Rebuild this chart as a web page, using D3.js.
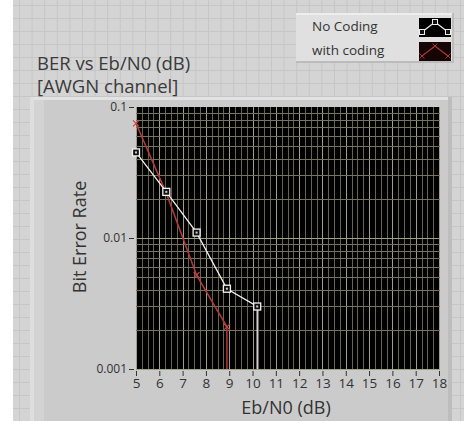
<!DOCTYPE html>
<html>
<head>
<meta charset="utf-8">
<script src="https://cdn.jsdelivr.net/npm/d3@7"></script>
<style>
  html, body { margin: 0; padding: 0; background: #ffffff; }
  svg { display: block; font-family: "Open Sans", "Noto Sans", sans-serif; }
</style>
</head>
<body>
<svg id="chart" width="464" height="421"></svg>
<script>
// Eb/N0 sample points (dB) and measured bit error rates
const ebn0NoCoding = [5, 6.3, 7.6, 8.9, 10.2];
const berNoCoding = [0.045, 0.0225, 0.011, 0.0041, 0.003];
const ebn0Coding = [5, 6.3, 7.6, 8.9];
const berCoding = [0.075, 0.022, 0.0052, 0.0021];
const xTicks = [5, 6, 7, 8, 9, 10, 11, 12, 13, 14, 15, 16, 17, 18];
const yTicks = [0.1, 0.01, 0.001];
const yTickLabels = ["0.1", "0.01", "0.001"];
const seriesNames = ["No Coding", "with coding"];

(function () {
const svg = d3.select("#chart");
const W = 464, H = 421;

// front panel background with its alignment grid
svg.append("rect").attr("x", 13).attr("y", 0).attr("width", W - 13).attr("height", H).attr("fill", "#d4d4d4");
const panelGrid = svg.append("g").attr("stroke", "#c6c6c6").attr("stroke-width", 1);
for (let gx = 19.5; gx < W; gx += 12.6) panelGrid.append("line").attr("x1", gx).attr("x2", gx).attr("y1", 0).attr("y2", H);
for (let gy = 5.5; gy < H; gy += 13) panelGrid.append("line").attr("x1", 13).attr("x2", W).attr("y1", gy).attr("y2", gy);

// graph frame
svg.append("rect").attr("x", 30).attr("y", 97).attr("width", 422).attr("height", H - 97).attr("fill", "#cbcbcb");
svg.append("rect").attr("x", 30).attr("y", 97).attr("width", 422).attr("height", 3).attr("fill", "#e2e2e2");
svg.append("rect").attr("x", 30).attr("y", 97).attr("width", 4).attr("height", H - 97).attr("fill", "#dedede");
svg.append("rect").attr("x", 34).attr("y", 100).attr("width", 10).attr("height", H - 100).attr("fill", "#d3d3d3");
svg.append("rect").attr("x", 448).attr("y", 97).attr("width", 4).attr("height", H - 97).attr("fill", "#bdbdbd");

// titles
const title = svg.append("text").attr("x", 37).attr("fill", "#3a3a3a").style("font-size", "18.5px");
title.append("tspan").attr("x", 37).attr("y", 70).text("BER vs Eb/N0 (dB)");
title.append("tspan").attr("x", 37).attr("y", 93).text("[AWGN channel]");

// plot area
const pL = 136, pR = 440, pT = 107, pB = 369;
const x = d3.scaleLinear().domain([5, 18]).range([pL, pR - 1]);
const y = d3.scaleLog().domain([0.001, 0.1]).range([pB, pT]);

svg.append("rect").attr("x", pL).attr("y", pT).attr("width", pR - pL).attr("height", pB - pT).attr("fill", "#000000");

const grid = svg.append("g");
// vertical grid: quarter-unit minor lines, brighter at integers
d3.range(5, 18.001, 0.25).forEach(v => {
  const major = Math.abs(v - Math.round(v)) < 1e-6;
  grid.append("line")
    .attr("x1", Math.round(x(v)) + 0.5).attr("x2", Math.round(x(v)) + 0.5)
    .attr("y1", pT).attr("y2", pB)
    .attr("stroke", major ? "#a0a084" : "#66664f").attr("stroke-width", 1);
});
// horizontal grid: logarithmic minors
[0.001, 0.01].forEach(dec => {
  d3.range(1, 10).forEach(m => {
    const v = dec * m;
    grid.append("line")
      .attr("x1", pL).attr("x2", pR)
      .attr("y1", Math.round(y(v)) + 0.5).attr("y2", Math.round(y(v)) + 0.5)
      .attr("stroke", m === 1 ? "#a0a084" : "#76765e").attr("stroke-width", 1);
  });
});

// axes
const xAxis = d3.axisBottom(x).tickValues(xTicks).tickFormat(d3.format("d")).tickSize(5).tickPadding(2);
const gxA = svg.append("g").attr("transform", `translate(0,${pB + 2})`).call(xAxis);
gxA.select(".domain").remove();
gxA.selectAll(".tick line").attr("stroke", "#333");
gxA.selectAll("text").attr("fill", "#333").style("font-size", "13.5px").style("font-family", "\"Open Sans\", sans-serif");

const yAxis = d3.axisLeft(y).tickValues(yTicks).tickFormat((d, i) => yTickLabels[i]).tickSize(5).tickPadding(2);
const gyA = svg.append("g").attr("transform", `translate(${pL - 2},0)`).call(yAxis);
gyA.select(".domain").remove();
gyA.selectAll(".tick line").attr("stroke", "#333");
gyA.selectAll("text").attr("fill", "#333").style("font-size", "12px").style("font-family", "\"Open Sans\", sans-serif");

svg.append("text").attr("x", 286).attr("y", 414).attr("text-anchor", "middle")
  .attr("fill", "#333").style("font-size", "18px").text("Eb/N0 (dB)");
svg.append("text").attr("transform", "translate(86,237) rotate(-90)").attr("text-anchor", "middle")
  .attr("fill", "#333").style("font-size", "18px").text("Bit Error Rate");

// curves; the run drops to the bottom edge where BER reaches zero
const plot = svg.append("g");
const line = d3.line().x(d => x(d[0])).y(d => y(d[1]));
const ptsCoding = ebn0Coding.map((e, i) => [e, berCoding[i]]);
const ptsNo = ebn0NoCoding.map((e, i) => [e, berNoCoding[i]]);

plot.append("path").attr("d", line(ptsCoding) + `V${pB}`)
  .attr("fill", "none").attr("stroke", "#b93838").attr("stroke-width", 1.5);
ptsCoding.forEach(p => {
  const cx = x(p[0]), cy = y(p[1]);
  plot.append("path").attr("d", `M${cx - 3},${cy - 3}L${cx + 3},${cy + 3}M${cx - 3},${cy + 3}L${cx + 3},${cy - 3}`)
    .attr("stroke", "#c84444").attr("stroke-width", 1.1);
});

plot.append("path").attr("d", line(ptsNo) + `V${pB}`)
  .attr("fill", "none").attr("stroke", "#f2f2f2").attr("stroke-width", 1.3);
ptsNo.forEach(p => {
  const cx = x(p[0]), cy = y(p[1]);
  plot.append("rect").attr("x", cx - 3.5).attr("y", cy - 3.5).attr("width", 7).attr("height", 7)
    .attr("fill", "#111").attr("stroke", "#f4f4f4").attr("stroke-width", 1.3);
  plot.append("rect").attr("x", cx - 1).attr("y", cy - 1).attr("width", 2).attr("height", 2).attr("fill", "#ccc");
});

// legend
const lg = svg.append("g");
lg.append("rect").attr("x", 296).attr("y", 13).attr("width", 158).attr("height", 50).attr("fill", "#bcbcbc");
lg.append("rect").attr("x", 296).attr("y", 13).attr("width", 156).attr("height", 48).attr("fill", "#e0e0e0");
lg.append("rect").attr("x", 296).attr("y", 13).attr("width", 156).attr("height", 2).attr("fill", "#eeeeee");
seriesNames.forEach((name, i) => {
  const ty = 31 + i * 24;
  lg.append("text").attr("x", 312).attr("y", ty).attr("fill", "#333").style("font-size", "13.5px").text(name);
  const sx = 419, sy = 18 + i * 24, sw = 32, sh = 19;
  lg.append("rect").attr("x", sx).attr("y", sy).attr("width", sw).attr("height", sh).attr("fill", i === 0 ? "#000" : "#160505");
  const pts = [[sx + 3, sy + sh - 5], [sx + sw / 2, sy + 4], [sx + sw - 3, sy + sh - 5]];
  lg.append("path").attr("d", d3.line()(pts)).attr("fill", "none")
    .attr("stroke", i === 0 ? "#eee" : "#a83535").attr("stroke-width", 1.2);
  pts.forEach(p => {
    if (i === 0) {
      lg.append("rect").attr("x", p[0] - 2.5).attr("y", p[1] - 2.5).attr("width", 5).attr("height", 5)
        .attr("fill", "#111").attr("stroke", "#eee").attr("stroke-width", 1);
    } else {
      lg.append("path").attr("d", `M${p[0] - 2.5},${p[1] - 2.5}L${p[0] + 2.5},${p[1] + 2.5}M${p[0] - 2.5},${p[1] + 2.5}L${p[0] + 2.5},${p[1] - 2.5}`)
        .attr("stroke", "#a83535").attr("stroke-width", 1);
    }
  });
});
})();
</script>
</body>
</html>
